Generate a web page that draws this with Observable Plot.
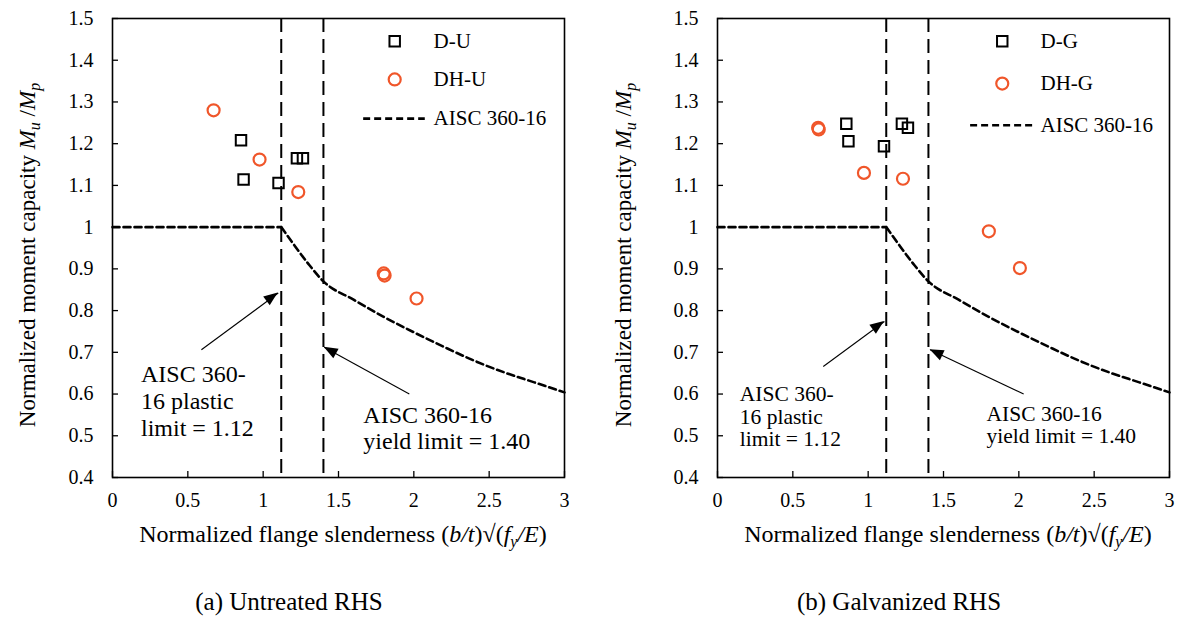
<!DOCTYPE html>
<html>
<head>
<meta charset="utf-8">
<script src="https://cdn.jsdelivr.net/npm/d3@7"></script>
<script src="https://cdn.jsdelivr.net/npm/@observablehq/plot@0.6"></script>
<style>
  body { margin: 0; background: #fff; }
  #fig { position: relative; width: 1182px; height: 620px; font-family: "Liberation Serif", "DejaVu Serif", serif; color: #000; }
  .panel { position: absolute; top: 0; }
  .cap { position: absolute; top: 588px; font-size: 25px; white-space: nowrap; transform: translateX(-50%); }
</style>
</head>
<body>
<div id="fig">
  <div id="pa" class="panel" style="left:0"></div>
  <div id="pb" class="panel" style="left:591px"></div>
  <div class="cap" style="left:289px">(a) Untreated RHS</div>
  <div class="cap" style="left:899px">(b) Galvanized RHS</div>
</div>
<script>
// Axis ticks
const xTicks = [0, 0.5, 1, 1.5, 2, 2.5, 3];
const yTicks = [0.4, 0.5, 0.6, 0.7, 0.8, 0.9, 1, 1.1, 1.2, 1.3, 1.4, 1.5];

// AISC 360-16 slenderness limits (plastic, yield)
const limits = [1.12, 1.40];

// AISC 360-16 design curve: plateau, then reduction
const plateauLambda = [0, 1.12];
const plateauRatio = [1, 1];
const reductionLambda = [1.12, 1.2, 1.3, 1.4, 1.6, 1.8, 2.0, 2.2, 2.4, 2.6, 2.8, 3.0];
const reductionRatio = [1.0, 0.960, 0.912, 0.870, 0.826, 0.785, 0.748, 0.713, 0.680, 0.652, 0.628, 0.604];

// Untreated RHS specimens
const duSlender = [0.853, 0.870, 1.102, 1.224, 1.264];
const duRatio = [1.208, 1.114, 1.106, 1.165, 1.165];
const dhuSlender = [0.671, 0.976, 1.233, 1.800, 1.806, 2.018];
const dhuRatio = [1.280, 1.162, 1.084, 0.889, 0.884, 0.829];

// Galvanized RHS specimens
const dgSlender = [0.855, 0.869, 1.105, 1.224, 1.264];
const dgRatio = [1.248, 1.206, 1.194, 1.248, 1.238];
const dhgSlender = [0.668, 0.672, 0.972, 1.231, 1.801, 2.007];
const dhgRatio = [1.238, 1.234, 1.130, 1.116, 0.990, 0.902];

const ORANGE = "#f0562a";
const FONT = "'Liberation Serif', 'DejaVu Serif', serif";
const zip = (xs, ys) => xs.map((x, i) => ({x, y: ys[i]}));
const curve = [
  ...zip(plateauLambda, plateauRatio).map(d => ({...d, part: "plateau"})),
  ...zip(reductionLambda, reductionRatio).map(d => ({...d, part: "reduction"}))
];

function panel(cfg) {
  const {squares, circles, names, legend, notes, arrows, margins, noteSize, noteLead, yTitleX} = cfg;
  const W = 591, H = 565;
  const plot = Plot.plot({
    width: W,
    height: H,
    marginLeft: margins[0],
    marginRight: margins[1],
    marginTop: 18,
    marginBottom: H - 477,
    x: {domain: [0, 3]},
    y: {domain: [0.4, 1.5]},
    style: {fontFamily: FONT, fontSize: "20px", color: "#000", background: "#fff"},
    marks: [
      Plot.axisX(xTicks, {tickSize: 0, tickPadding: 15, tickFormat: d => String(d), label: null, fontSize: 20}),
      Plot.axisY(yTicks, {tickSize: 0, tickPadding: 19, tickFormat: d => String(d), label: null, fontSize: 20}),
      // inward tick marks
      Plot.ruleX(xTicks, {x: d => d, y1: 0.4, y2: 0.4, insetTop: -6, stroke: "#000", strokeWidth: 1.3}),
      Plot.ruleY(yTicks, {y: d => d, x1: 0, x2: 0, insetRight: -6, stroke: "#000", strokeWidth: 1.3}),
      // slenderness limits
      Plot.ruleX(limits, {stroke: "#000", strokeWidth: 2, strokeDasharray: "14,7"}),
      // design curve
      Plot.line(curve, {x: "x", y: "y", z: "part", curve: "monotone-x", stroke: "#000", strokeWidth: 2.6, strokeDasharray: "7,4"}),
      // annotation arrows
      Plot.link(arrows, {x1: "x1", y1: "y1", x2: "x2", y2: "y2", stroke: "#000", strokeWidth: 1.1}),
      Plot.text(notes, {x: "x", y: "y", text: "text", textAnchor: "start", lineAnchor: "middle", fontSize: noteSize, lineHeight: noteLead, fill: "#000"}),
      // specimens
      Plot.dot(squares, {x: "x", y: "y", symbol: "square", r: 5.9, stroke: "#000", strokeWidth: 2, fill: "none"}),
      Plot.dot(circles, {x: "x", y: "y", symbol: "circle", r: 6, stroke: ORANGE, strokeWidth: 2.2, fill: "none"}),
      // legend
      Plot.dot([legend.sq], {x: "x", y: "y", symbol: "square", r: 5.9, stroke: "#000", strokeWidth: 2, fill: "none"}),
      Plot.dot([legend.ci], {x: "x", y: "y", symbol: "circle", r: 6, stroke: ORANGE, strokeWidth: 2.2, fill: "none"}),
      Plot.ruleY([legend.ln], {y: "y", x1: "x1", x2: "x2", stroke: "#000", strokeWidth: 2.6, strokeDasharray: "7,4"}),
      Plot.text([
        {x: legend.tx, y: legend.sq.y, t: names[0]},
        {x: legend.tx, y: legend.ci.y, t: names[1]},
        {x: legend.tx, y: legend.ln.y, t: "AISC 360-16"}
      ], {x: "x", y: "y", text: "t", textAnchor: "start", fontSize: 21, fill: "#000"}),
      Plot.frame({stroke: "#000", strokeWidth: 1.6})
    ]
  });

  const svg = d3.select(plot);
  const sx = plot.scale("x"), sy = plot.scale("y");
  const X = v => sx.apply(v), Y = v => sy.apply(v);

  // filled arrowheads
  for (const a of arrows) {
    const x1 = X(a.x1), y1 = Y(a.y1), x2 = X(a.x2), y2 = Y(a.y2);
    const ang = Math.atan2(y2 - y1, x2 - x1);
    const L = 14, hw = 5.5;
    const bx = x2 - L * Math.cos(ang), by = y2 - L * Math.sin(ang);
    const px = -Math.sin(ang) * hw, py = Math.cos(ang) * hw;
    svg.append("path")
      .attr("d", `M${x2},${y2}L${bx + px},${by + py}L${bx - px},${by - py}Z`)
      .attr("fill", "#000");
  }

  // axis titles with italic symbols and subscripts
  const cx = (X(0) + X(3)) / 2 + 5;
  const xt = svg.append("text")
    .attr("x", cx).attr("y", 542)
    .attr("text-anchor", "middle").attr("font-family", FONT).attr("font-size", 24).attr("fill", "#000");
  xt.append("tspan").text("Normalized flange slenderness (");
  xt.append("tspan").attr("font-style", "italic").text("b/t");
  xt.append("tspan").text(")\u221A(");
  xt.append("tspan").attr("font-style", "italic").text("f");
  xt.append("tspan").attr("font-style", "italic").attr("font-size", 16).attr("dy", 5).text("y");
  xt.append("tspan").attr("font-style", "italic").attr("dy", -5).text("/E");
  xt.append("tspan").text(")");

  const yt = svg.append("text")
    .attr("transform", `translate(${yTitleX},255) rotate(-90)`)
    .attr("text-anchor", "middle").attr("font-family", FONT).attr("font-size", 23).attr("fill", "#000");
  yt.append("tspan").text("Normalized moment capacity ");
  yt.append("tspan").attr("font-style", "italic").text("M");
  yt.append("tspan").attr("font-style", "italic").attr("font-size", 16).attr("dy", 5).text("u");
  yt.append("tspan").attr("dy", -5).text(" /");
  yt.append("tspan").attr("font-style", "italic").text("M");
  yt.append("tspan").attr("font-style", "italic").attr("font-size", 16).attr("dy", 5).text("p");

  return plot;
}

document.getElementById("pa").append(panel({
  squares: zip(duSlender, duRatio),
  circles: zip(dhuSlender, dhuRatio),
  names: ["D-U", "DH-U"],
  legend: {sq: {x: 1.873, y: 1.4455}, ci: {x: 1.873, y: 1.354}, ln: {y: 1.26, x1: 1.667, x2: 2.076}, tx: 2.131},
  notes: [
    {x: 0.189, y: 0.584, text: "AISC 360-\n16 plastic\nlimit = 1.12"},
    {x: 1.665, y: 0.520, text: "AISC 360-16\nyield limit = 1.40"}
  ],
  arrows: [
    {x1: 0.590, y1: 0.706, x2: 1.100, y2: 0.842},
    {x1: 1.970, y1: 0.600, x2: 1.405, y2: 0.712}
  ],
  margins: [112, 27],
  noteSize: 24,
  noteLead: 1.12,
  yTitleX: 35
}));

document.getElementById("pb").append(panel({
  squares: zip(dgSlender, dgRatio),
  circles: zip(dhgSlender, dhgRatio),
  names: ["D-G", "DH-G"],
  legend: {sq: {x: 1.89, y: 1.4455}, ci: {x: 1.89, y: 1.344}, ln: {y: 1.244, x1: 1.68, x2: 2.098}, tx: 2.144},
  notes: [
    {x: 0.148, y: 0.546, text: "AISC 360-\n16 plastic\nlimit = 1.12"},
    {x: 1.786, y: 0.526, text: "AISC 360-16\nyield limit = 1.40"}
  ],
  arrows: [
    {x1: 0.702, y1: 0.666, x2: 1.108, y2: 0.774},
    {x1: 2.032, y1: 0.600, x2: 1.411, y2: 0.706}
  ],
  margins: [126, 13],
  noteSize: 21.5,
  noteLead: 1.05,
  yTitleX: 40
}));
</script>
</body>
</html>
